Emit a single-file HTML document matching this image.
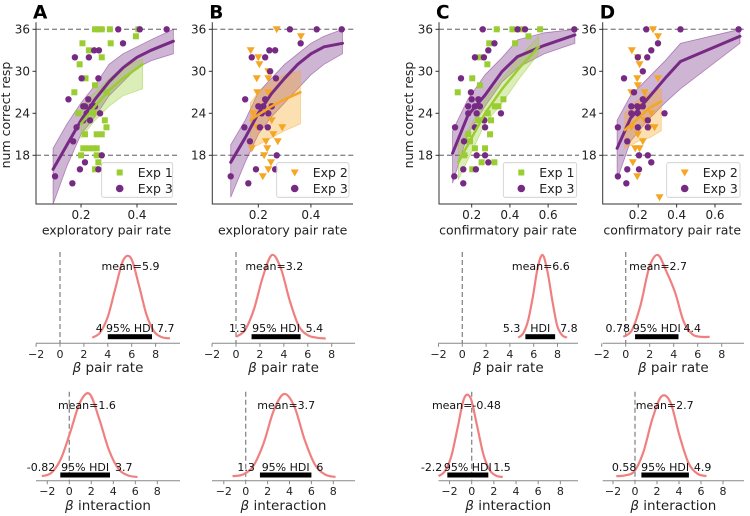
<!DOCTYPE html>
<html><head><meta charset="utf-8">
<style>
html,body{margin:0;padding:0;background:#fff;}
svg{display:block;font-family:"DejaVu Sans","Liberation Sans",sans-serif;}
</style></head>
<body>
<svg id="fig" width="750" height="516" viewBox="0 0 750 516"></svg>
<script>
// ---------- scatter data ----------
const aExp1X=[.25,.262,.274,.303,.405,.396,.205,.228,.274,.306,.195,.216,.176,.25,.291,.208,.25,.19,.244,.285,.291,.274,.256,.214,.208,.226,.244,.256,.2,.256,.262,.25];
const aExp1Y=[36,36,36,36,36,35,34,33,32,34,31,29,27,28,27,25,25,24,24,23,22,21,21,21,19,19,19,19,18,18,17,16];
const aExp3X=[.333,.41,.506,.35,.247,.264,.178,.228,.202,.262,.155,.226,.238,.208,.22,.184,.172,.274,.214,.196,.107,.169,.262,.214,.25,.232,.268,.208];
const aExp3Y=[36,36,36,34,33,33,32,32,29,29,26,26,25,25,24,22,20,18,17,16,15,14,16,25,25,23,24,23];
const bExp2X=[.27,.362,.171,.2,.204,.238,.194,.238,.196,.238,.181,.206,.251,.291,.257,.274,.229,.175,.234,.222,.248,.238,.217,.196,.251];
const bExp2Y=[36,35,33,32,31,30,29,29,27,27,24,25,25,22,21,20,20,19,19,18,17,16,15,22,23];
const bExp3X=[.32,.422,.517,.361,.175,.226,.242,.264,.245,.267,.15,.226,.2,.219,.251,.213,.238,.147,.236,.168,.27,.191,.264,.095,.162,.206];
const bExp3Y=[36,36,36,34,32,32,33,33,30,29,26,26,25,25,25,24,24,22,22,20,18,16,16,15,14,22];
const cExp1X=[.331,.413,.462,.558,.497,.427,.292,.243,.282,.203,.127,.243,.366,.322,.284,.301,.296,.191,.217,.27,.252,.319,.203,.161,.182,.235,.34];
const cExp1Y=[36,36,36,36,35,34,34,32,31,29,27,28,26,25,24,23,21,20,19,19,17,17,16,18,21,23,25];
const cExp3X=[.258,.44,.479,.737,.287,.319,.217,.264,.144,.196,.235,.182,.217,.243,.182,.226,.353,.113,.217,.27,.266,.16,.226,.27,.156,.287,.109,.156,.222,.2];
const cExp3Y=[36,36,36,36,33,34,32,32,29,27,26,25,25,25,24,24,24,22,22,22,23,20,18,18,16,17,15,14,16,26];
const dExp2X=[.277,.303,.167,.207,.198,.195,.198,.164,.233,.303,.216,.242,.268,.233,.285,.198,.224,.184,.207,.172,.195,.311,.259,.164];
const dExp2Y=[36,35,33,31,32,29,28,27,27,29,25,26,24,23,22,21,20,19,19,17,15,12,22,22];
const dExp3X=[.242,.42,.723,.303,.268,.198,.247,.126,.224,.178,.224,.164,.195,.224,.164,.198,.337,.094,.198,.25,.25,.143,.204,.25,.143,.268,.094,.138,.204];
const dExp3Y=[36,36,36,34,33,32,32,29,30,27,26,25,25,25,24,24,24,22,22,23,22,20,18,18,16,17,15,14,16];
// ---------- fit lines + bands ----------
const aPurX=[.1,.15,.2,.25,.3,.35,.4,.45,.53], aPurY=[16,19.5,23,26,28.5,30.5,32,33,34.3], aPurLo=[11,16.5,21,23.5,26.5,28.5,30.5,31.5,32.5], aPurHi=[19,22.5,25.5,28,31,32.5,33.5,34.5,36];
const aGrnX=[.2,.25,.3,.35,.42], aGrnY=[22.5,25,27.3,29,31], aGrnLo=[20.5,23,25,26.5,27.5], aGrnHi=[25,27,29,30.5,31.8];
const bPurX=[.095,.15,.2,.25,.3,.35,.4,.45,.52], bPurY=[17,20.5,24,26.8,29,31,32.5,33.5,34], bPurLo=[12,17,21,23.5,25.5,27.5,29.5,31,32.5], bPurHi=[19.5,23,27,29,31,32.5,34,35,36];
const bOrgX=[.17,.2,.25,.3,.36], bOrgY=[23,23.8,25,26,27], bOrgLo=[19,19.5,20.5,21.5,22.5], bOrgHi=[25.5,27,28.5,29.5,30];
const cPurX=[.1,.18,.27,.36,.44,.58,.74], cPurY=[18.3,23.7,26.6,30,32.1,33.7,35.2], cPurLo=[14,21,25,28.5,30.5,32.5,34], cPurHi=[21.5,26,29.5,32,34.5,35.5,36];
const cGrnX=[.13,.2,.27,.36,.45,.55], cGrnY=[17,20.5,24,27.5,30.5,33.5], cGrnLo=[14.5,18.5,22.5,25.5,29,32.5], cGrnHi=[19.5,22.5,26,29,32,35];
const dPurX=[.09,.16,.25,.34,.42,.73], dPurY=[19,23.3,26.1,29,31.4,35], dPurLo=[14.5,20,23,25.5,27.5,34], dPurHi=[23,26.5,29,31.5,34,36];
const dOrgX=[.13,.2,.26,.32], dOrgY=[21.6,23.3,24.8,25.7], dOrgLo=[19,20,20.5,21.5], dOrgHi=[24,26,27,27.5];
// ---------- axis ticks ----------
const yTicks=[18,24,30,36];
const xTicksAB=[0.2,0.4];
const xTicksCD=[0.2,0.4,0.6];
const postTicks=[-2,0,2,4,6,8];
// ---------- posteriors: grid start, end, density ----------
const postStart=[2.7,0,4.7,-0.2,-2.5,-1.2,-3.0,-1.7];
const postEnd=[9.2,7.5,8.8,7.0,6.2,8.2,2.8,6.5];
const postDens=[
 [0.01,0.07,0.26,0.61,0.94,0.96,0.64,0.28,0.08,0.015,0.002],
 [0.02,0.1,0.35,0.74,1.0,0.84,0.45,0.15,0.04,0.01,0.0],
 [0.01,0.06,0.21,0.5,0.85,1.0,0.8,0.45,0.15,0.04,0.01],
 [0.02,0.1,0.4,0.85,1.0,0.8,0.55,0.2,0.05,0.02,0.02],
 [0.01,0.05,0.22,0.55,0.9,1.0,0.7,0.33,0.1,0.02,0.0],
 [0.01,0.03,0.13,0.4,0.8,1.0,0.85,0.45,0.15,0.03,0.0],
 [0.01,0.07,0.25,0.6,0.95,0.95,0.62,0.27,0.08,0.015,0.0],
 [0.01,0.02,0.07,0.3,0.7,0.97,0.9,0.5,0.17,0.04,0.01]];
const postMean=[5.9,3.2,6.6,2.7,1.6,3.7,-0.48,2.7];
const hdiLo=[4,1.3,5.3,0.78,-0.82,1.3,-2.2,0.58];
const hdiHi=[7.7,5.4,7.8,4.4,3.7,6,1.5,4.9];
const hdiText=["95% HDI","95% HDI","HDI","95% HDI","95% HDI","95% HDI","95% HDI","95% HDI"];

const NS="http://www.w3.org/2000/svg";
const fig=document.getElementById('fig');
function el(tag,attrs,parent,txt){const e=document.createElementNS(NS,tag);for(const k in attrs)e.setAttribute(k,attrs[k]);if(txt!==undefined)e.textContent=txt;(parent||fig).appendChild(e);return e;}

const PUR="#762a83", GRN="#9acd32", ORG="#f5a623";
const YT=22.3, YB=204;
function yS(v){return 29.3+(36-v)*7;}

const panels=[
 {id:'a',L:36,R:177,x0:0.039,x1:0.543,xt:xTicksAB,xl:'exploratory pair rate',letter:'A',ylab:true,
  sets:[{c:GRN,m:'sq',X:aExp1X,Y:aExp1Y,lab:'Exp 1'},{c:PUR,m:'ci',X:aExp3X,Y:aExp3Y,lab:'Exp 3'}],
  fits:[{c:PUR,X:aPurX,Y:aPurY,Lo:aPurLo,Hi:aPurHi,w:3,n:'exp3'},{c:GRN,X:aGrnX,Y:aGrnY,Lo:aGrnLo,Hi:aGrnHi,w:2.5,n:'exp1'}],leg:[101.7,172.7]},
 {id:'b',L:212.3,R:353,x0:0.025,x1:0.56,xt:xTicksAB,xl:'exploratory pair rate',letter:'B',ylab:false,
  sets:[{c:ORG,m:'tr',X:bExp2X,Y:bExp2Y,lab:'Exp 2'},{c:PUR,m:'ci',X:bExp3X,Y:bExp3Y,lab:'Exp 3'}],
  fits:[{c:PUR,X:bPurX,Y:bPurY,Lo:bPurLo,Hi:bPurHi,w:3,n:'exp3'},{c:ORG,X:bOrgX,Y:bOrgY,Lo:bOrgLo,Hi:bOrgHi,w:2.5,n:'exp2'}],leg:[276.7,349]},
 {id:'c',L:439,R:577,x0:0.029,x1:0.751,xt:xTicksCD,xl:'confirmatory pair rate',letter:'C',ylab:true,
  sets:[{c:GRN,m:'sq',X:cExp1X,Y:cExp1Y,lab:'Exp 1'},{c:PUR,m:'ci',X:cExp3X,Y:cExp3Y,lab:'Exp 3'}],
  fits:[{c:PUR,X:cPurX,Y:cPurY,Lo:cPurLo,Hi:cPurHi,w:3,n:'exp3'},{c:GRN,X:cGrnX,Y:cGrnY,Lo:cGrnLo,Hi:cGrnHi,w:2.5,n:'exp1'}],leg:[503.3,576.7]},
 {id:'d',L:602.7,R:741.7,x0:0.015,x1:0.739,xt:xTicksCD,xl:'confirmatory pair rate',letter:'D',ylab:false,
  sets:[{c:ORG,m:'tr',X:dExp2X,Y:dExp2Y,lab:'Exp 2'},{c:PUR,m:'ci',X:dExp3X,Y:dExp3Y,lab:'Exp 3'}],
  fits:[{c:PUR,X:dPurX,Y:dPurY,Lo:dPurLo,Hi:dPurHi,w:3,n:'exp3'},{c:ORG,X:dOrgX,Y:dOrgY,Lo:dOrgLo,Hi:dOrgHi,w:2.5,n:'exp2'}],leg:[666.7,740]}
];

function marker(g,m,x,y,c){
  let e;
  if(m==='sq') e=el('rect',{x:x-3,y:y-3,width:6,height:6,fill:c},g);
  else if(m==='ci') e=el('circle',{cx:x,cy:y,r:3.2,fill:c},g);
  else e=el('polygon',{points:`${x-4},${y-3} ${x+4},${y-3} ${x},${y+4}`,fill:c},g);
  return e;
}

panels.forEach(p=>{
  const xS=v=>p.L+(v-p.x0)/(p.x1-p.x0)*(p.R-p.L);
  const g=el('g',{});
  
  
  const lt=el('text',{x:p.L-3,y:18.5,'font-size':18.5,'font-weight':'bold',fill:'#000'},g,p.letter);
  
  
  [36,18].forEach(v=>{
    const r=el('line',{x1:p.L,x2:p.R+2,y1:yS(v),y2:yS(v),stroke:'#888','stroke-width':1.3,'stroke-dasharray':'5,3'},g);
    
    
  });
  p.fits.forEach(f=>{
    let pts=f.X.map((x,i)=>xS(x)+','+yS(f.Hi[i]));
    for(let i=f.X.length-1;i>=0;i--) pts.push(xS(f.X[i])+','+yS(f.Lo[i]));
    const b=el('polygon',{points:pts.join(' '),fill:f.c,'fill-opacity':0.35,stroke:f.c,'stroke-opacity':0.5,'stroke-width':0.8},g);
    
    
  });
  p.sets.forEach(s=>{
    s.X.forEach((x,i)=>{
      const m=marker(g,s.m,xS(x),yS(s.Y[i]),s.c);
      
      
    });
  });
  p.fits.forEach(f=>{
    const l=el('polyline',{points:f.X.map((x,i)=>xS(x)+','+yS(f.Y[i])).join(' '),fill:'none',stroke:f.c,'stroke-width':f.w,'stroke-linejoin':'round','stroke-linecap':'round'},g);
    
    
  });
  const ax=el('path',{d:`M${p.L},${YT} V${YB} H${p.R}`,fill:'none',stroke:'#333','stroke-width':1},g);
  
  
  yTicks.forEach(v=>{
    el('line',{x1:p.L-3.5,x2:p.L,y1:yS(v),y2:yS(v),stroke:'#333'},g);
    const t=el('text',{x:p.L-6,y:yS(v)+4.3,'font-size':12,'text-anchor':'end',fill:'#222'},g,v);
    
    
  });
  p.xt.forEach(v=>{
    el('line',{x1:xS(v),x2:xS(v),y1:YB,y2:YB+3.5,stroke:'#333'},g);
    const t=el('text',{x:xS(v),y:YB+15,'font-size':12,'text-anchor':'middle',fill:'#222'},g,v);
    
    
  });
  const xl=el('text',{x:(p.L+p.R)/2,y:234.5,'font-size':12.5,'text-anchor':'middle',fill:'#222'},g,p.xl);
  
  
  if(p.ylab){
    const yl=el('text',{x:0,y:0,'font-size':12.5,'text-anchor':'middle',fill:'#222',transform:`translate(${p.L-26},115) rotate(-90)`},g,'num correct resp');
    
    
  }
  const lg=el('g',{},g);
  
  
  el('rect',{x:p.leg[0],y:162.7,width:p.leg[1]-p.leg[0],height:34.6,rx:2,fill:'#fff','fill-opacity':0.85,stroke:'#ccc','stroke-width':0.8},lg);
  p.sets.forEach((s,i)=>{
    const yy=172.5+i*16;
    const e=el('g',{},lg);
    
    
    const mk=marker(e,s.m,p.leg[0]+18,yy,s.c);
    if(s.m==='ci') mk.setAttribute('r',3.8);
    el('text',{x:p.leg[0]+36,y:yy+4.5,'font-size':12.5,fill:'#222'},e,s.lab);
  });
});

const post=[
 {L:36,R:180,z:60,u:11.95,row:0,n:'a-pair-rate'},
 {L:212,R:355,z:236,u:11.96,row:0,n:'b-pair-rate'},
 {L:438.5,R:578,z:462.3,u:11.9,row:0,n:'c-pair-rate'},
 {L:602.7,R:744,z:625.7,u:12,row:0,n:'d-pair-rate'},
 {L:36,R:180,z:69.3,u:11,row:1,n:'a-interaction'},
 {L:212,R:355,z:245.7,u:10.95,row:1,n:'b-interaction'},
 {L:438.5,R:578,z:471.7,u:11.08,row:1,n:'c-interaction'},
 {L:602.7,R:744,z:635,u:11,row:1,n:'d-interaction'}];
const rows=[{axis:343.3,base:338.5,peak:255,dashTop:252,hdiY:336.7,hdiT:332,meanT:270,lab:372,title:'pair rate'},
            {axis:480.7,base:477,peak:394,dashTop:391.7,hdiY:475,hdiT:471,meanT:409,lab:510,title:'interaction'}];
post.forEach((p,i)=>{
  const r=rows[p.row];
  const xS=v=>p.z+v*p.u;
  const g=el('g',{});
  
  
  const ax=el('line',{x1:p.L,x2:p.R,y1:r.axis,y2:r.axis,stroke:'#888','stroke-width':1},g);
  
  
  postTicks.forEach(v=>{
    el('line',{x1:xS(v),x2:xS(v),y1:r.axis,y2:r.axis+3.5,stroke:'#888'},g);
    const t=el('text',{x:xS(v),y:r.axis+14.5,'font-size':11,'text-anchor':'middle',fill:'#222'},g,v<0?'\u2212'+(-v):v);
    
    
  });
  const zl=el('line',{x1:xS(0),x2:xS(0),y1:r.dashTop,y2:r.axis,stroke:'#888','stroke-width':1.3,'stroke-dasharray':'5,3'},g);
  
  
  const d=postDens[i], n=d.length, s0=postStart[i], s1=postEnd[i];
  const P=d.map((v,k)=>[xS(s0+(s1-s0)*k/(n-1)), r.base-(r.base-r.peak)*v]);
  let path=`M${P[0][0]},${P[0][1]}`;
  for(let k=0;k<n-1;k++){
    const p0=P[Math.max(0,k-1)],p1=P[k],p2=P[k+1],p3=P[Math.min(n-1,k+2)];
    const c1=[p1[0]+(p2[0]-p0[0])/6,p1[1]+(p2[1]-p0[1])/6];
    const c2=[p2[0]-(p3[0]-p1[0])/6,p2[1]-(p3[1]-p1[1])/6];
    path+=` C${c1[0]},${c1[1]} ${c2[0]},${c2[1]} ${p2[0]},${p2[1]}`;
  }
  const cv=el('path',{d:path,fill:'none',stroke:'#f08080','stroke-width':2.2},g);
  
  
  const hb=el('rect',{x:xS(hdiLo[i]),y:r.hdiY-2.5,width:xS(hdiHi[i])-xS(hdiLo[i]),height:5,fill:'#000'},g);
  
  
  const t1=el('text',{x:(xS(hdiLo[i])+xS(hdiHi[i]))/2,y:r.hdiT,'font-size':11,'text-anchor':'middle',fill:'#111'},g,hdiText[i]);
  
  
  const t2=el('text',{x:xS(hdiLo[i])-5,y:r.hdiT,'font-size':11,'text-anchor':'end',fill:'#111'},g,hdiLo[i]);
  
  
  const t3=el('text',{x:xS(hdiHi[i])+5,y:r.hdiT,'font-size':11,'text-anchor':'start',fill:'#111'},g,hdiHi[i]);
  
  
  const tm=el('text',{x:xS(postMean[i]),y:r.meanT,'font-size':11,'text-anchor':'middle',fill:'#111'},g,'mean='+postMean[i]);
  
  
  const tl=el('text',{x:(p.L+p.R)/2,y:r.lab,'font-size':13.5,'text-anchor':'middle',fill:'#222'},g);
  
  
  el('tspan',{'font-style':'italic'},tl,'\u03b2');
  el('tspan',{},tl,' '+r.title);
});
</script>
</body></html>
